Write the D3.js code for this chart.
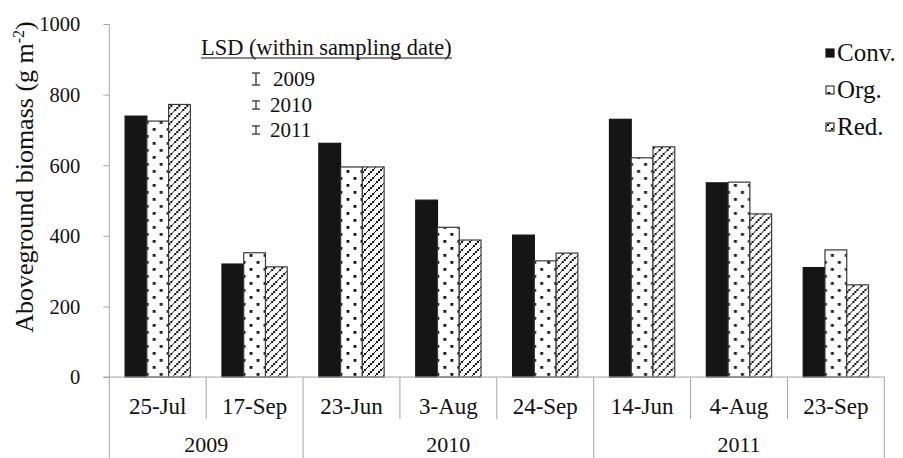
<!DOCTYPE html>
<html>
<head>
<meta charset="utf-8">
<script src="https://cdn.jsdelivr.net/npm/d3@7"></script>
<style>
  html, body { margin: 0; padding: 0; background: #fff; }
  svg { display: block; }
  svg text { font-family: "Liberation Serif", "Times New Roman", serif; }
</style>
</head>
<body>
<svg id="chart" width="903" height="458"></svg>
<script>
// Sampling dates and the year each belongs to
const dates = ["25-Jul", "17-Sep", "23-Jun", "3-Aug", "24-Sep", "14-Jun", "4-Aug", "23-Sep"];
const years = ["2009", "2009", "2010", "2010", "2010", "2011", "2011", "2011"];
const yearLabels = ["2009", "2010", "2011"];

// Aboveground biomass (g m-2) per management system
const seriesNames = ["Conv.", "Org.", "Red."];
const conv = [739, 320, 662, 501, 402, 730, 550, 310];
const org  = [725, 352, 595, 424, 329, 621, 552, 360];
const red  = [772, 312, 595, 388, 351, 652, 462, 261];

// LSD (within sampling date) per year
const lsdYears = ["2009", "2010", "2011"];
const lsdValues = [34, 23, 23];

const yTicks = [0, 200, 400, 600, 800, 1000];

(function draw() {
const svg = d3.select("#chart");
const W = 903, H = 458;
const plotLeft = 109.3, plotRight = 884.3, plotTop = 24, base = 377;
const ink = "#111";

const x = d3.scaleBand().domain(dates.map((d, i) => i)).range([plotLeft, plotRight]).paddingInner(0).paddingOuter(0);
const bw = x.bandwidth();
const xs = d3.scaleBand().domain(seriesNames).range([15.8, bw - 15.8]).padding(0);
const y = d3.scaleLinear().domain([0, 1000]).range([base, plotTop]);

// Fill patterns
const defs = svg.append("defs");
const dots = defs.append("pattern").attr("id", "dots").attr("patternUnits", "userSpaceOnUse")
  .attr("width", 14).attr("height", 14);
dots.append("rect").attr("width", 14).attr("height", 14).attr("fill", "#fff");
dots.append("rect").attr("x", 1.5).attr("y", 2).attr("width", 2.8).attr("height", 2.8).attr("fill", ink);
dots.append("rect").attr("x", 8.5).attr("y", 9).attr("width", 2.8).attr("height", 2.8).attr("fill", ink);

// Forward-slash stripes built from small stepped squares
const hatch = defs.append("pattern").attr("id", "hatch").attr("patternUnits", "userSpaceOnUse")
  .attr("width", 8).attr("height", 8);
hatch.append("rect").attr("width", 8).attr("height", 8).attr("fill", "#fff");
[[-1, 7], [1, 5], [3, 3], [5, 1], [7, -1]].forEach(p => {
  hatch.append("rect").attr("x", p[0]).attr("y", p[1]).attr("width", 2.4).attr("height", 2.4)
    .attr("fill", ink).attr("shape-rendering", "crispEdges");
});

const fills = { "Conv.": "#151515", "Org.": "url(#dots)", "Red.": "url(#hatch)" };
const strokes = { "Conv.": "#151515", "Org.": "#3a3a3a", "Red.": "#3a3a3a" };

const rows = dates.map((d, i) => ({ i, values: [conv[i], org[i], red[i]] }));

// Bars
const groups = svg.append("g").selectAll("g").data(rows).join("g")
  .attr("transform", d => `translate(${x(d.i)},0)`);
groups.selectAll("rect").data(d => seriesNames.map((s, k) => ({ s, v: d.values[k] })))
  .join("rect")
  .attr("x", d => xs(d.s))
  .attr("width", xs.bandwidth())
  .attr("y", d => y(d.v))
  .attr("height", d => y(0) - y(d.v))
  .attr("fill", d => fills[d.s])
  .attr("stroke", d => strokes[d.s])
  .attr("stroke-width", 1.2);

const axisColor = "#a6a6a6";

// Y axis
const yAxis = d3.axisLeft(y).tickValues(yTicks).tickSize(6).tickPadding(23).tickFormat(d3.format("d"));
const gy = svg.append("g").attr("transform", `translate(${plotLeft},0)`).call(yAxis);
gy.attr("font-family", null).attr("font-size", null);
gy.select(".domain").remove();
gy.selectAll(".tick line").attr("stroke", axisColor).attr("stroke-width", 1);
gy.selectAll(".tick text").attr("fill", ink).attr("dy", "0.34em")
  .style("font-size", "20.5px").style("font-family", "'Liberation Serif', serif");
svg.append("line").attr("x1", plotLeft).attr("x2", plotLeft).attr("y1", plotTop).attr("y2", H)
  .attr("stroke", axisColor).attr("stroke-width", 1);

// X axis baseline
svg.append("line").attr("x1", plotLeft - 6).attr("x2", plotRight).attr("y1", base).attr("y2", base)
  .attr("stroke", axisColor).attr("stroke-width", 1);

// Category separators: short between dates, full-height between years
const seps = d3.range(1, dates.length + 1).map(i => ({
  xpos: i < dates.length ? x(i) : plotRight,
  full: i === dates.length || years[i] !== years[i - 1]
}));
svg.append("g").selectAll("line").data(seps).join("line")
  .attr("x1", d => d.xpos).attr("x2", d => d.xpos)
  .attr("y1", base).attr("y2", d => d.full ? H : 419)
  .attr("stroke", axisColor).attr("stroke-width", 1);

// Date labels
svg.append("g").selectAll("text").data(dates).join("text")
  .attr("x", (d, i) => x(i) + bw / 2).attr("y", 414)
  .attr("text-anchor", "middle").attr("font-size", 23).attr("fill", ink)
  .text(d => d);

// Year labels centred under their dates
svg.append("g").selectAll("text").data(yearLabels).join("text")
  .attr("x", yr => {
    const idx = years.map((v, i) => v === yr ? i : -1).filter(i => i >= 0);
    return (x(idx[0]) + x(idx[idx.length - 1]) + bw) / 2;
  })
  .attr("y", 452)
  .attr("text-anchor", "middle").attr("font-size", 22).attr("fill", ink)
  .text(d => d);

// Y axis title
const yt = svg.append("text")
  .attr("transform", "translate(33,177) rotate(-90)")
  .attr("text-anchor", "middle").attr("font-size", 26).attr("fill", ink);
yt.append("tspan").text("Aboveground biomass (g m");
yt.append("tspan").attr("font-size", 16).attr("dy", -9).text("-2");
yt.append("tspan").attr("dy", 9).text(")");

// LSD key
const lsd = svg.append("g");
lsd.append("text").attr("x", 201).attr("y", 55).attr("font-size", 22.4).attr("fill", ink)
  .text("LSD (within sampling date)");
lsd.append("line").attr("x1", 201).attr("x2", 452).attr("y1", 58).attr("y2", 58)
  .attr("stroke", ink).attr("stroke-width", 1);
const lsdY = [79, 105, 130];
lsdYears.forEach((yr, k) => {
  const h = y(0) - y(lsdValues[k]);
  const cx = 256, cy = lsdY[k];
  const g = lsd.append("g").attr("stroke", "#333").attr("stroke-width", 1.3);
  g.append("line").attr("x1", cx).attr("x2", cx).attr("y1", cy - h / 2).attr("y2", cy + h / 2);
  g.append("line").attr("x1", cx - 4).attr("x2", cx + 4).attr("y1", cy - h / 2).attr("y2", cy - h / 2);
  g.append("line").attr("x1", cx - 4).attr("x2", cx + 4).attr("y1", cy + h / 2).attr("y2", cy + h / 2);
  lsd.append("text").attr("x", yr === "2009" ? 273 : 270).attr("y", cy + 7)
    .attr("font-size", 21).attr("fill", ink).text(yr);
});

// Series legend
const legY = [53, 90, 127];
const leg = svg.append("g").selectAll("g").data(seriesNames).join("g")
  .attr("transform", (d, i) => `translate(826,${legY[i]})`);
leg.append("rect").attr("x", 0).attr("y", -4).attr("width", 8).attr("height", 8)
  .attr("fill", d => d === "Conv." ? "#151515" : `url(#${d === "Org." ? "dots" : "hatch"})`)
  .attr("stroke", d => strokes[d]).attr("stroke-width", 1.2);
leg.append("text").attr("x", 11).attr("y", 8).attr("font-size", 25).attr("fill", ink).text(d => d);
})();
</script>
</body>
</html>
